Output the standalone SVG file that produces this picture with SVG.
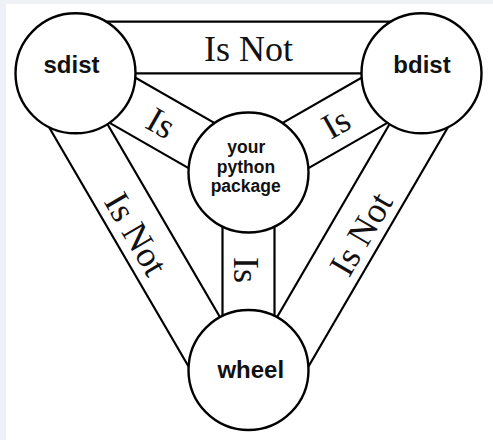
<svg xmlns="http://www.w3.org/2000/svg" width="493" height="440" viewBox="0 0 493 440">
  <style>
    .band { stroke: #000; stroke-width: 2.2; fill: none; stroke-linecap: butt; }
    .node { fill: #fff; stroke: #000; stroke-width: 2.4; }
    .lbl { font-family: "Liberation Serif", "Times New Roman", serif; font-size: 36px; fill: #111; text-anchor: middle; }
    .name { font-family: "Liberation Sans", Arial, sans-serif; font-weight: bold; font-size: 24px; fill: #111; text-anchor: middle; }
    .small { font-family: "Liberation Sans", Arial, sans-serif; font-weight: bold; font-size: 17.5px; fill: #111; text-anchor: middle; }
  </style>
  <rect x="0" y="0" width="493" height="440" fill="#eef2f6"/>
  <rect x="6" y="4" width="487" height="436" fill="#fff"/>

  <g id="connectors">
    <!-- sdist - bdist (Is Not) -->
    <line class="band" x1="75.5" y1="21.7" x2="421.5" y2="21.7"/>
    <line class="band" x1="75.5" y1="73.3" x2="421.5" y2="73.3"/>
    <text class="lbl" x="248.5" y="61">Is Not</text>
    <!-- sdist - package (Is) -->
    <line class="band" x1="62.6" y1="95.9" x2="235.6" y2="195.1"/>
    <line class="band" x1="88.4" y1="50.7" x2="261.4" y2="149.9"/>
    <text class="lbl" transform="translate(161,123) rotate(29.83)" x="0" y="12">Is</text>
    <!-- bdist - package (Is) -->
    <line class="band" x1="434.4" y1="95.9" x2="261.4" y2="195.1"/>
    <line class="band" x1="408.6" y1="50.7" x2="235.6" y2="149.9"/>
    <text class="lbl" transform="translate(336,123) rotate(-29.83)" x="0" y="12">Is</text>
    <!-- package - wheel (Is) -->
    <line class="band" x1="222.5" y1="172.5" x2="222.5" y2="370"/>
    <line class="band" x1="274.5" y1="172.5" x2="274.5" y2="370"/>
    <text class="lbl" transform="translate(246,270) rotate(90)" x="0" y="12">Is</text>
    <!-- sdist - wheel (Is Not) -->
    <line class="band" x1="77.2" y1="72.3" x2="250.2" y2="369"/>
    <line class="band" x1="32.3" y1="98.5" x2="205.3" y2="395.2"/>
    <text class="lbl" transform="translate(136,234) rotate(59.75)" x="0" y="12">Is Not</text>
    <!-- bdist - wheel (Is Not) -->
    <line class="band" x1="419.8" y1="72.3" x2="246.8" y2="369"/>
    <line class="band" x1="464.7" y1="98.5" x2="291.7" y2="395.2"/>
    <text class="lbl" transform="translate(361,234) rotate(-59.75)" x="0" y="12">Is Not</text>
  </g>

  <g id="sdist">
    <circle class="node" cx="75.5" cy="73.3" r="60"/>
    <text class="name" x="71.5" y="73.3">sdist</text>
  </g>
  <g id="bdist">
    <circle class="node" cx="421.5" cy="73.3" r="60"/>
    <text class="name" x="422" y="72.8">bdist</text>
  </g>
  <g id="package">
    <circle class="node" cx="248.5" cy="172.5" r="60"/>
    <text class="small" x="246.3" y="153">your</text>
    <text class="small" x="246" y="172.5">python</text>
    <text class="small" x="245.7" y="191.5">package</text>
  </g>
  <g id="wheel">
    <circle class="node" cx="248.5" cy="370" r="60"/>
    <text class="name" x="250.8" y="378.3">wheel</text>
  </g>
</svg>
